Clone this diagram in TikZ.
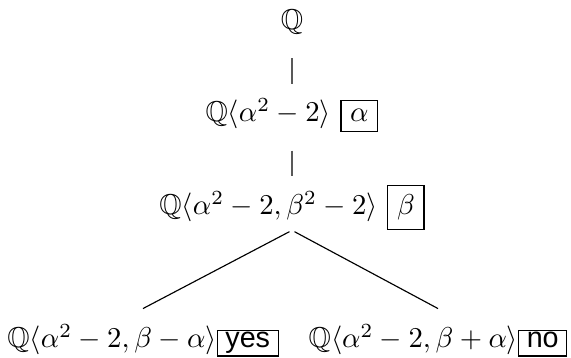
\documentclass[tikz,border=0pt]{standalone}
\usepackage{amsmath,amssymb}
\usepackage{fontspec}
\newfontfamily\answerfont{Liberation Sans}
\usetikzlibrary{positioning}

% framed yes/no answer next to a leaf
\newcommand{\verdict}[1]{{\setlength{\fboxsep}{0pt}\fbox{\hspace{2.6pt}\rule[-2.6pt]{0pt}{8.6pt}\answerfont #1\hspace{2.6pt}}}}

\begin{document}
\begin{tikzpicture}[
    x=0.3484pt,
    y=-0.3484pt,
    field/.style={inner sep=0pt, outer sep=0pt, anchor=base},
    leaf/.style={field, inner ysep=5.6pt},
    branch/.style={draw=black, line width=0.4pt},
    trunk/.style={draw=black!65, line width=0.4pt}
]
\useasboundingbox (0,0) rectangle (571,358);

% Tree levels
\node [field] (q) at (292, 30) {$\mathbb{Q}$};
\node [field] (qa) at (292, 122) {$\mathbb{Q}\langle\alpha^2-2\rangle$ \fbox{$\alpha$}};
\node [field] (qb) at (292, 215) {$\mathbb{Q}\langle\alpha^2-2,\beta^2-2\rangle$ \fbox{$\beta$}};

% Leaves
\node [leaf] (yes) at (143, 348) {$\mathbb{Q}\langle\alpha^2-2,\beta-\alpha\rangle$\verdict{yes}};
\node [leaf] (no) at (438, 348) {$\mathbb{Q}\langle\alpha^2-2,\beta+\alpha\rangle$\verdict{no}};

% Edges
\draw [trunk, shorten <=8.2pt, shorten >=5.2pt] (q.south) -- (qa.north);
\draw [trunk, shorten <=6.6pt, shorten >=3.1pt] (qa.south) -- (qb.north);
\draw [branch, shorten <=1pt] (qb.south) -- (yes.north);
\draw [branch, shorten <=1pt] (qb.south) -- (no.north);

\end{tikzpicture}
\end{document}
